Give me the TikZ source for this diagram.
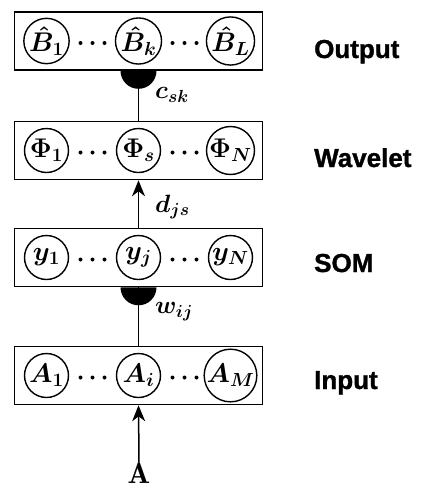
\RequirePackage{fix-cm}
\documentclass[tikz,border=0pt]{standalone}
\usepackage{fontspec}
\usepackage{amsmath}
\usetikzlibrary{arrows.meta,calc}
\newfontfamily\layerfont{Liberation Sans Bold}[FakeBold=1.2]

\begin{document}
\begin{tikzpicture}[x=1pt,y=-1pt,
  layerbox/.style={draw, line width=1.6pt, minimum width=248pt, minimum height=58pt, inner sep=0pt},
  unitcirc/.style={draw, circle, line width=1.4pt, minimum size=44pt, inner sep=0pt,
                   font=\fontsize{27}{30}\selectfont\boldmath},
  layername/.style={font=\layerfont\fontsize{26}{30}\selectfont, anchor=base west, inner sep=0pt},
  weight/.style={font=\fontsize{25}{30}\selectfont\boldmath, anchor=west, inner sep=0pt},
  link/.style={line width=1.5pt},
  feedarrow/.style={line width=1.5pt, -{Stealth[length=16pt,width=13pt,inset=5pt]}}
]
\useasboundingbox (0,0) rectangle (424,488);

% Output layer
\node[layerbox] (outbox) at (138.5,41) {};
\node[unitcirc] (b1) at (46.5,41) {$\hat{B}_1$};
\node[unitcirc] (bk) at (138.5,41) {$\hat{B}_k$};
\node[unitcirc] (bL) at (230.5,41) {$\hat{B}_L$};
\node[layername] (outname) at (314,58) {Output};

% Wavelet layer
\node[layerbox] (wavbox) at (138.5,150.5) {};
\node[unitcirc] (p1) at (46.5,150.5) {$\Phi_1$};
\node[unitcirc] (ps) at (138.5,150.5) {$\Phi_s$};
\node[unitcirc] (pN) at (230.5,150.5) {$\Phi_N$};
\node[layername] (wavname) at (314,167) {Wavelet};

% SOM layer
\node[layerbox] (sombox) at (138.5,257.5) {};
\node[unitcirc] (y1) at (46.5,257.5) {$y_1$};
\node[unitcirc] (yj) at (138.5,257.5) {$y_j$};
\node[unitcirc] (yN) at (230.5,257.5) {$y_N$};
\node[layername] (somname) at (314,272) {SOM};

% Input layer
\node[layerbox] (inpbox) at (138.5,375.5) {};
\node[unitcirc] (a1) at (46.5,375.5) {$A_1$};
\node[unitcirc] (ai) at (138.5,375.5) {$A_i$};
\node[unitcirc] (aM) at (230.5,375.5) {$A_M$};
\node[layername] (inpname) at (314,389) {Input};

% ellipsis dots between neighbouring units
\foreach \u in {b1,bk,p1,ps,y1,yj,a1,ai}
  \foreach \dx in {-12,0,12}
    \fill ($(\u)+(46+\dx,2)$) circle[radius=2];

% input vector
\node[font=\fontsize{30}{34}\selectfont, inner sep=0pt, anchor=base] (invec) at (139,483) {$\mathbf{A}$};

% connections between layers
\draw[link] (outbox.south) -- (wavbox.north);
\fill ($(outbox.south)+(-18,0)$) arc[start angle=180, end angle=0, radius=18] -- cycle;
\draw[feedarrow] (sombox.north) -- (wavbox.south);
\draw[link] (sombox.south) -- (inpbox.north);
\fill ($(sombox.south)+(-18,0)$) arc[start angle=180, end angle=0, radius=18] -- cycle;
\draw[feedarrow] (invec.north) -- (inpbox.south);

% weight labels
\node[weight] (csk) at (155,95) {$c_{sk}$};
\node[weight] (djs) at (155,207) {$d_{js}$};
\node[weight] (wij) at (155,312) {$w_{ij}$};
\end{tikzpicture}
\end{document}
